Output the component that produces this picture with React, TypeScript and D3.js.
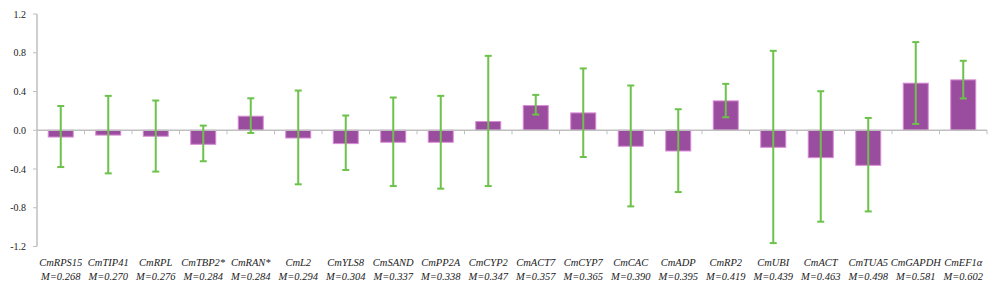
import React from "react";
import * as d3 from "d3";

const genes = ["CmRPS15","CmTIP41","CmRPL","CmTBP2*","CmRAN*","CmL2","CmYLS8","CmSAND","CmPP2A","CmCYP2","CmACT7","CmCYP7","CmCAC","CmADP","CmRP2","CmUBI","CmACT","CmTUA5","CmGAPDH","CmEF1α"];
const mValues = ["0.268","0.270","0.276","0.284","0.284","0.294","0.304","0.337","0.338","0.347","0.357","0.365","0.390","0.395","0.419","0.439","0.463","0.498","0.581","0.602"];
const values = [-0.07,-0.05,-0.062,-0.145,0.145,-0.08,-0.138,-0.124,-0.124,0.09,0.255,0.179,-0.165,-0.214,0.303,-0.176,-0.283,-0.362,0.486,0.52];
const errHigh = [0.25,0.355,0.307,0.048,0.33,0.41,0.152,0.338,0.355,0.768,0.365,0.638,0.462,0.217,0.479,0.82,0.403,0.127,0.91,0.717];
const errLow = [-0.38,-0.445,-0.427,-0.32,-0.028,-0.558,-0.41,-0.576,-0.603,-0.576,0.162,-0.276,-0.786,-0.638,0.134,-1.165,-0.944,-0.838,0.065,0.328];
const yTicks = [-1.2,-0.8,-0.4,0.0,0.4,0.8,1.2];

const FONT = "'Liberation Serif', 'Times New Roman', 'DejaVu Serif Condensed', 'DejaVu Serif', serif";

export default function App() {
  const W = 1000, H = 290;
  const x0 = 37, x1 = 987;
  const x = d3.scaleBand<string>().domain(genes).range([x0, x1]).paddingInner(0).paddingOuter(0);
  const y = d3.scaleLinear().domain([-1.2, 1.2]).range([246.5, 14]);
  const bw = 25;
  const axisColor = "#bfbfbf";
  const ts: React.CSSProperties = { fontFamily: FONT, fontStretch: "condensed" };
  return (
    <svg width={W} height={H} style={{ position: "absolute", left: 0, top: 0, background: "#fff" }}>
      <line x1={x0} x2={x0} y1={y(1.2)} y2={y(-1.2)} stroke={axisColor} strokeWidth={1.5} />
      {yTicks.map((t) => (
        <g key={t}>
          <line x1={x0 - 4} x2={x0} y1={y(t)} y2={y(t)} stroke={axisColor} strokeWidth={1} />
          <text style={ts} x={x0 - 11} y={y(t)} dy="0.35em" textAnchor="end" fontSize={10} fill="#222">{t.toFixed(1)}</text>
        </g>
      ))}
      {genes.map((g, i) => {
        const cx = (x(g) as number) + x.bandwidth() / 2;
        const v = values[i];
        return (
          <rect key={g} x={cx - bw / 2} y={Math.min(y(v), y(0))} width={bw} height={Math.abs(y(v) - y(0))}
            fill="#9a4c9e" stroke="#d98ad6" strokeWidth={1} />
        );
      })}
      <line x1={x0} x2={x1} y1={y(0)} y2={y(0)} stroke={axisColor} strokeWidth={1.5} />
      {genes.map((g, i) => {
        const bx = (x(g) as number) + x.bandwidth();
        return <line key={"t" + i} x1={bx} x2={bx} y1={y(0)} y2={y(0) + 4} stroke={axisColor} strokeWidth={1} />;
      })}
      {genes.map((g, i) => {
        const cx = (x(g) as number) + x.bandwidth() / 2;
        return (
          <g key={"e" + g} stroke="#6cc24a" strokeWidth={2}>
            <line x1={cx} x2={cx} y1={y(errHigh[i])} y2={y(errLow[i])} />
            <line x1={cx - 3.5} x2={cx + 3.5} y1={y(errHigh[i])} y2={y(errHigh[i])} />
            <line x1={cx - 3.5} x2={cx + 3.5} y1={y(errLow[i])} y2={y(errLow[i])} />
          </g>
        );
      })}
      {genes.map((g, i) => {
        const cx = (x(g) as number) + x.bandwidth() / 2;
        return (
          <g key={"l" + g}>
            <text style={{ ...ts, fontStyle: "italic" }} x={cx} y={266} fontSize={10.5} fill="#222" textAnchor="middle">{g}</text>
            <text style={{ ...ts, fontStyle: "italic" }} x={cx} y={279.5} fontSize={10.5} fill="#222" textAnchor="middle">{"M=" + mValues[i]}</text>
          </g>
        );
      })}
    </svg>
  );
}
